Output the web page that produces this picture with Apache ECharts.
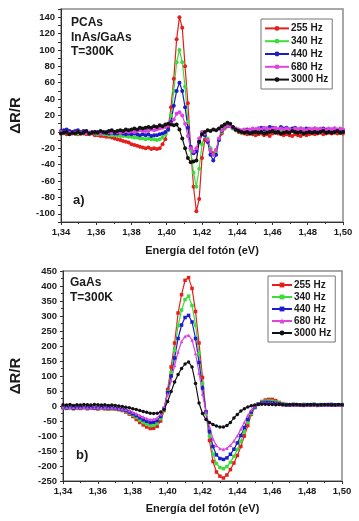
<!DOCTYPE html>
<html>
<head>
<meta charset="utf-8">
<script src="https://cdn.jsdelivr.net/npm/echarts@6/dist/echarts.min.js"></script>
<style>
  html, body { margin: 0; padding: 0; background: #fff; }
  #chartA { width: 359px; height: 262px; }
  #chartB { width: 359px; height: 259px; }
</style>
</head>
<body>
<div id="chartA"></div>
<div id="chartB"></div>
<script>
// legend names + colours, shared by both panels
const freqNames = ['255 Hz', '340 Hz', '440 Hz', '680 Hz', '3000 Hz'];
const lineColors = ['#e3201c', '#3ddc3d', '#1c1cc8', '#dd44dd', '#111111'];

// panel a) PCAs InAs/GaAs
const energyA = [
  1.3400, 1.3416, 1.3432, 1.3448, 1.3464, 1.3480, 1.3496, 1.3512, 1.3528, 1.3544,
  1.3560, 1.3576, 1.3592, 1.3608, 1.3624, 1.3640, 1.3656, 1.3672, 1.3688, 1.3704,
  1.3720, 1.3736, 1.3752, 1.3768, 1.3784, 1.3800, 1.3816, 1.3832, 1.3848, 1.3864,
  1.3880, 1.3896, 1.3912, 1.3928, 1.3944, 1.3960, 1.3976, 1.3992, 1.4008, 1.4024,
  1.4040, 1.4056, 1.4072, 1.4088, 1.4104, 1.4120, 1.4136, 1.4152, 1.4168, 1.4184,
  1.4200, 1.4216, 1.4232, 1.4248, 1.4264, 1.4280, 1.4296, 1.4312, 1.4328, 1.4344,
  1.4360, 1.4376, 1.4392, 1.4408, 1.4424, 1.4440, 1.4456, 1.4472, 1.4488, 1.4504,
  1.4520, 1.4536, 1.4552, 1.4568, 1.4584, 1.4600, 1.4616, 1.4632, 1.4648, 1.4664,
  1.4680, 1.4696, 1.4712, 1.4728, 1.4744, 1.4760, 1.4776, 1.4792, 1.4808, 1.4824,
  1.4840, 1.4856, 1.4872, 1.4888, 1.4904, 1.4920, 1.4936, 1.4952, 1.4968, 1.4984,
  1.5000
];
const a255 = [
  -2, -1, -3, -2, -1, -2, -3, -2, -2, -3,
  -3, -2, -4, -4, -5, -5, -6, -6, -7, -8,
  -9, -10, -11, -12, -13, -15, -16, -17, -18, -19,
  -20, -19, -21, -20, -21, -20, -15, -9, 5, 30,
  65, 113, 140, 127, 80, 35, -20, -67, -97, -82,
  -32, -10, -12, -22, -26, -22, -10, -2, 4, 7,
  8, 5, 2, 0, -1, -2, -3, -2, -3, -4,
  -3, -2, -4, -3, -5, -2, 1, -2, -3, -4,
  -3, -4, -5, -3, -4, -5, -3, -4, -3, -2,
  -3, -2, -1, -3, -2, -1, -2, -1, -2, -1, -2
];
const a340 = [
  -1, -2, 0, -1, -2, -1, -2, -1, -2, -1,
  -2, -1, -2, -3, -2, -3, -3, -4, -4, -4,
  -4, -5, -5, -5, -6, -6, -7, -7, -8, -8,
  -9, -8, -9, -9, -10, -9, -7, -3, 2, 20,
  50, 85, 100, 85, 55, 12, -22, -50, -67, -45,
  -15, -4, -8, -20, -28, -24, -10, 0, 5, 8,
  7, 4, 2, 1, 0, -1, 0, 1, -1, 0,
  1, 3, 2, 0, 1, 2, 4, 2, 1, 0,
  1, 0, 2, 1, 0, 1, 2, 0, 1, 0,
  1, 2, 0, 1, 2, 1, 0, 1, 2, 1, 0
];
const a440 = [
  1, 2, 3, 1, 0, 1, 2, 0, 1, 0,
  -1, 0, -1, 0, -1, -1, 0, -2, -1, -2,
  -2, -1, -2, -3, -2, -3, -2, -3, -4, -3,
  -4, -3, -5, -4, -4, -3, -2, 0, 3, 12,
  32, 50, 60, 50, 30, 5, -18, -26, -24, -12,
  -3, -4, -12, -28, -35, -28, -10, 1, 6, 8,
  7, 5, 3, 2, 1, 2, 3, 1, 2, 3,
  4, 5, 3, 4, 6, 5, 4, 3, 6, 4,
  5, 3, 4, 5, 3, 4, 3, 4, 2, 3,
  4, 3, 2, 4, 3, 2, 3, 4, 2, 3, 2
];
const a680 = [
  0, -1, 0, -1, -2, -1, 0, -1, -1, -2,
  -1, -1, 0, -1, -2, -1, -1, 0, -1, 0,
  0, -1, 0, 1, 0, 1, 0, 1, 2, 1,
  1, 2, 3, 2, 3, 4, 5, 6, 8, 10,
  15, 22, 24, 20, 10, -5, -20, -24, -20, -8,
  0, -2, -10, -22, -28, -22, -8, 2, 6, 8,
  7, 5, 4, 3, 2, 3, 2, 3, 4, 3,
  4, 3, 5, 4, 3, 4, 5, 3, 4, 3,
  4, 3, 2, 4, 3, 4, 3, 2, 4, 3,
  4, 3, 4, 3, 2, 4, 3, 4, 3, 4, 3
];
const a3000 = [
  -2, -1, 0, -3, -1, -2, 0, -2, -1, 1,
  -2, -1, 0, -1, 1, 0, -1, 1, 2, 0,
  1, 2, 1, 3, 2, 3, 4, 3, 5, 4,
  5, 6, 5, 7, 6, 8, 7, 9, 10, 9,
  8, 9, 3, -8, -20, -32, -37, -36, -35, -12,
  -3, 0, 2, 1, 3, 2, 4, 7, 9, 11,
  10, 6, 3, 1, 0, -1, 0, -2, -1, 0,
  -1, 0, -2, -1, 0, 1, -1, 0, -2, -1,
  0, -1, 1, 0, -1, 0, -2, -1, 0, -1,
  0, -1, 0, 1, -1, 0, -1, 0, 1, -1, 0
];

// panel b) GaAs
const energyB = [
  1.340, 1.342, 1.344, 1.346, 1.348, 1.350, 1.352, 1.354, 1.356, 1.358,
  1.360, 1.362, 1.364, 1.366, 1.368, 1.370, 1.372, 1.374, 1.376, 1.378,
  1.380, 1.382, 1.384, 1.386, 1.388, 1.390, 1.392, 1.394, 1.396, 1.398,
  1.400, 1.402, 1.404, 1.406, 1.408, 1.410, 1.412, 1.414, 1.416, 1.418,
  1.420, 1.422, 1.424, 1.426, 1.428, 1.430, 1.432, 1.434, 1.436, 1.438,
  1.440, 1.442, 1.444, 1.446, 1.448, 1.450, 1.452, 1.454, 1.456, 1.458,
  1.460, 1.462, 1.464, 1.466, 1.468, 1.470, 1.472, 1.474, 1.476, 1.478,
  1.480, 1.482, 1.484, 1.486, 1.488, 1.490, 1.492, 1.494, 1.496, 1.498,
  1.500
];
const b255 = [
  -6, -8, -5, -9, -7, -8, -6, -9, -7, -8,
  -10, -8, -9, -10, -9, -10, -12, -15, -20, -27,
  -35, -45, -55, -63, -70, -75, -74, -68, -50, -15,
  55, 130, 210, 310, 371, 419, 428, 392, 315, 210,
  95, -20, -115, -185, -220, -234, -240, -230, -212, -190,
  -165, -135, -100, -65, -28, -5, 6, 15, 20, 22,
  22, 18, 12, 8, 5, 4, 5, 3, 4, 5,
  4, 3, 5, 4, 3, 4, 5, 3, 4, 3,
  4
];
const b340 = [
  -5, -7, -6, -8, -6, -7, -5, -8, -6, -7,
  -8, -7, -9, -8, -9, -9, -11, -13, -17, -23,
  -30, -38, -47, -55, -61, -65, -64, -58, -42, -12,
  48, 112, 185, 268, 320, 355, 366, 335, 270, 175,
  75, -25, -100, -160, -192, -205, -209, -202, -188, -168,
  -145, -117, -86, -55, -25, -5, 6, 13, 16, 17,
  16, 13, 10, 7, 5, 4, 3, 5, 4, 3,
  5, 4, 3, 4, 5, 3, 4, 5, 3, 4,
  5
];
const b440 = [
  -4, -6, -5, -7, -5, -6, -4, -6, -5, -7,
  -6, -5, -6, -7, -6, -8, -10, -12, -15, -20,
  -26, -32, -39, -46, -51, -55, -54, -49, -35, -8,
  45, 100, 160, 225, 270, 295, 302, 280, 225, 145,
  60, -20, -85, -135, -163, -175, -178, -173, -161, -144,
  -123, -98, -72, -45, -20, -3, 6, 10, 12, 12,
  11, 9, 7, 5, 4, 3, 5, 4, 3, 2,
  4, 3, 5, 2, 4, 3, 4, 5, 3, 4,
  3
];
const b680 = [
  -3, -4, -5, -4, -6, -5, -4, -5, -6, -5,
  -4, -6, -5, -6, -5, -7, -8, -10, -12, -16,
  -21, -26, -32, -37, -42, -45, -44, -40, -28, -5,
  40, 85, 135, 180, 215, 232, 236, 220, 175, 110,
  40, -20, -70, -110, -132, -142, -145, -141, -131, -117,
  -99, -77, -54, -32, -13, 0, 7, 11, 12, 11,
  10, 8, 6, 5, 4, 5, 3, 4, 5, 4,
  3, 5, 4, 3, 5, 4, 3, 4, 5, 4,
  3
];
const b3000 = [
  4, 3, 5, 2, 4, 3, 5, 4, 3, 5,
  4, 3, 4, 2, 3, 2, 0, -2, -4, -6,
  -9, -12, -15, -18, -21, -24, -25, -24, -20, -12,
  15, 48, 80, 105, 125, 140, 147, 130, 75, 10,
  -25, -45, -55, -62, -67, -70, -70, -65, -55, -40,
  -28, -17, -9, -3, 1, 3, 5, 6, 6, 5,
  5, 4, 5, 4, 3, 5, 4, 5, 4, 3,
  4, 5, 4, 3, 4, 5, 4, 3, 4, 5,
  4
];

const FONT = '"Liberation Sans", Arial, sans-serif';
const INK = '#1a1a1a';

function buildSeries(xs, lists, symbols, size) {
  return lists.map((vals, i) => ({
    name: freqNames[i],
    type: 'line',
    data: xs.map((x, j) => [x, vals[j]]),
    symbol: symbols[i],
    symbolSize: size,
    showAllSymbol: true,
    lineStyle: { color: lineColors[i], width: 1.2 },
    itemStyle: { color: lineColors[i] },
  }));
}

function baseOption(grid, yMin, yMax, yStep, yLabel, xGap, yGap) {
  return {
    animation: false,
    grid: Object.assign({ show: true, borderColor: '#8a8a8a', borderWidth: 1.5 }, grid),
    xAxis: {
      type: 'value',
      min: 1.34,
      max: 1.5,
      interval: 0.02,
      axisLine: { onZero: false, lineStyle: { color: '#333', width: 1 } },
      axisTick: { length: 3, lineStyle: { color: '#333' } },
      minorTick: { show: true, splitNumber: 2, length: 2, lineStyle: { color: '#333' } },
      splitLine: { show: false },
      axisLabel: {
        margin: 5,
        color: INK,
        fontFamily: FONT,
        fontWeight: 'bold',
        fontSize: 9.5,
        formatter: (v) => v.toFixed(2).replace('.', ','),
      },
      name: 'Energía del fotón (eV)',
      nameLocation: 'middle',
      nameGap: xGap,
      nameTextStyle: { color: INK, fontFamily: FONT, fontWeight: 'bold', fontSize: 11 },
    },
    yAxis: {
      type: 'value',
      min: yMin,
      max: yMax,
      interval: yStep,
      axisLine: { show: true, onZero: false, lineStyle: { color: '#333', width: 1 } },
      axisTick: { show: true, length: 3, lineStyle: { color: '#333' } },
      splitLine: { show: false },
      axisLabel: {
        margin: 6,
        color: INK,
        fontFamily: FONT,
        fontWeight: 'bold',
        fontSize: 9.5,
        formatter: yLabel,
      },
      name: 'ΔR/R',
      nameLocation: 'middle',
      nameGap: yGap,
      nameTextStyle: { color: INK, fontFamily: FONT, fontWeight: 'bold', fontSize: 15 },
    },
  };
}

function legendBox(left, top, itemW, lineH) {
  return {
    orient: 'vertical',
    left: left,
    top: top,
    itemWidth: itemW,
    itemHeight: 6,
    itemGap: 2,
    padding: [4, 4, 4, 3],
    borderColor: '#777',
    borderWidth: 1,
    backgroundColor: '#fff',
    data: freqNames,
    textStyle: {
      color: INK,
      fontFamily: FONT,
      fontWeight: 'bold',
      fontSize: 10,
      lineHeight: lineH,
      padding: [0, 0, 0, -3],
    },
  };
}

function label(text, x, y, size) {
  return {
    type: 'text',
    left: x,
    top: y - size / 2 - 1,
    style: { text: text, fill: INK, font: 'bold ' + size + 'px ' + FONT },
  };
}

// top panel
const chartA = echarts.init(document.getElementById('chartA'));
const optA = baseOption(
  { left: 56, right: 16, top: 9, bottom: 40 },
  -110, 150, 10,
  (v) => (v % 20 === 0 && v >= -100 && v <= 140 ? String(v) : ''),
  23, 38
);
optA.legend = legendBox(261, 19, 24, 10.8);
optA.series = buildSeries(energyA, [a255, a340, a440, a680, a3000],
  ['circle', 'circle', 'circle', 'circle', 'circle'], 4);
optA.graphic = [
  label('PCAs', 71, 24, 12),
  label('InAs/GaAs', 71, 39, 12),
  label('T=300K', 71, 53, 12),
  label('a)', 73, 201, 13),
];
chartA.setOption(optA);

// bottom panel
const chartB = echarts.init(document.getElementById('chartB'));
const optB = baseOption(
  { left: 59, right: 17, top: 9, bottom: 40 },
  -250, 450, 50,
  (v) => String(v),
  22, 40
);
optB.yAxis.minorTick = { show: true, splitNumber: 2, length: 2, lineStyle: { color: '#333' } };
optB.legend = legendBox(268, 14, 20, 9.6);
optB.series = buildSeries(energyB, [b255, b340, b440, b680, b3000],
  ['rect', 'rect', 'rect', 'triangle', 'circle'], 3.5);
optB.graphic = [
  label('GaAs', 70, 22, 12),
  label('T=300K', 70, 37, 12),
  label('b)', 76, 194, 13),
];
chartB.setOption(optB);
</script>
</body>
</html>
